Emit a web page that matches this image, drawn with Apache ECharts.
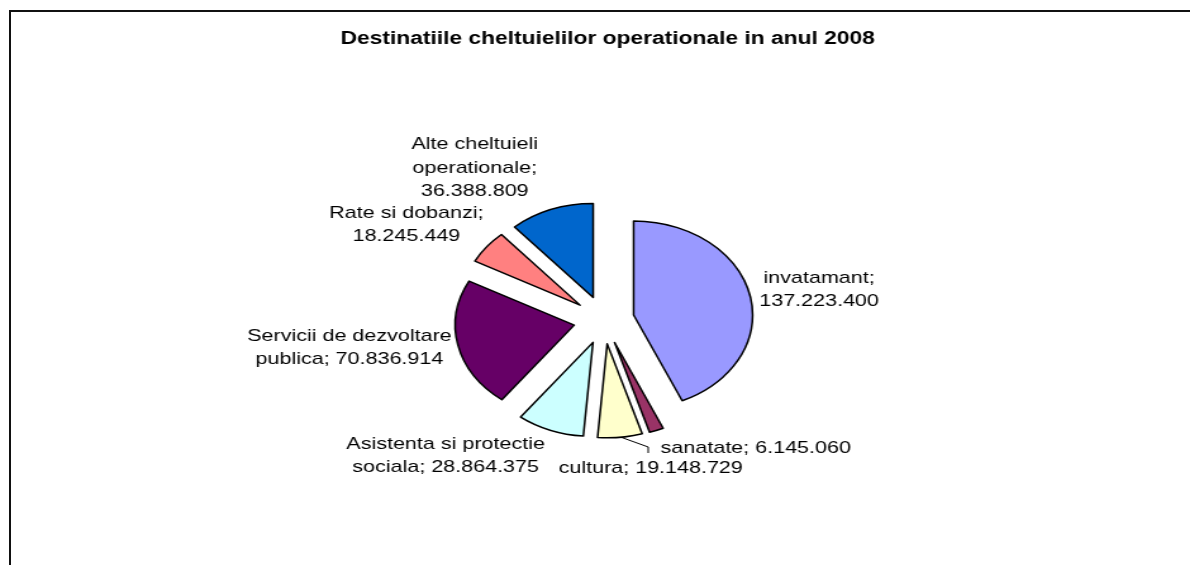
<!DOCTYPE html>
<html>
<head>
<meta charset="utf-8">
<script src="https://cdn.jsdelivr.net/npm/echarts@6/dist/echarts.min.js"></script>
<style>
    html, body { margin: 0; padding: 0; background: #fff; overflow: hidden; }
    #frame {
        position: absolute; left: 9px; top: 10px; width: 1300px; height: 700px;
        border-left: 2px solid #111; border-top: 2px solid #111;
    }
    /* the original picture is stretched sideways, so the chart is too */
    #chart {
        position: absolute; left: 0; top: 0; width: 940px; height: 565px;
        transform: scaleX(1.266); transform-origin: 0 0;
    }
</style>
</head>
<body>
<div id="frame"></div>
<div id="chart"></div>
<script>
const categories = [
    'invatamant',
    'sanatate',
    'cultura',
    'Asistenta si protectie sociala',
    'Servicii de dezvoltare publica',
    'Rate si dobanzi',
    'Alte cheltuieli operationale'
]
const values = [137223400, 6145060, 19148729, 28864375, 70836914, 18245449, 36388809]
const colors = ['#9999FF', '#993366', '#FFFFCC', '#CCFFFF', '#660066', '#FF8080', '#0066CC']
// how each label is broken over lines (value is appended)
const labelHeads = [
    'invatamant;\n',
    'sanatate; ',
    'cultura; ',
    'Asistenta si protectie\nsociala; ',
    'Servicii de dezvoltare\npublica; ',
    'Rate si dobanzi;\n',
    'Alte cheltuieli\noperationale;\n'
]
// label centres (chart px, before stretch)
const labelPos = [[647, 290], [597, 448], [514, 468], [352, 456], [276, 348], [321, 225], [375, 168]]

function fmt(v) {
    return String(v).replace(/\B(?=(\d{3})+(?!\d))/g, '.')
}

const FONT = 'Liberation Sans, Arial'
const CENTER = [477, 320]
const R = 94

var chart = echarts.init(document.getElementById('chart'))
let option = {
    animation: false,
    title: {
        text: 'Destinatiile cheltuielilor operationale in anul 2008',
        left: 269,
        top: 30,
        padding: 0,
        textStyle: { fontFamily: FONT, fontSize: 18, fontWeight: 'bold', color: '#000' }
    },
    graphic: [
        {
            // leader line of the cultura label
            type: 'polyline',
            shape: { points: [[490, 437], [512, 447], [512, 453]] },
            style: { stroke: '#000', lineWidth: 1, fill: null }
        }
    ],
    series: [
        {
            // exploded slices
            type: 'pie',
            center: CENTER,
            radius: R,
            startAngle: 90,
            clockwise: true,
            selectedMode: 'multiple',
            selectedOffset: 24,
            emphasis: { disabled: true },
            itemStyle: { borderColor: '#000', borderWidth: 1.5 },
            select: { itemStyle: { borderColor: '#000', borderWidth: 1.5 } },
            label: { show: false },
            labelLine: { show: false },
            data: categories.map((c, i) => ({
                name: c,
                value: values[i],
                selected: true,
                itemStyle: { color: colors[i] }
            }))
        },
        {
            // same data, invisible, only carries the labels
            type: 'pie',
            silent: true,
            center: CENTER,
            radius: R,
            startAngle: 90,
            clockwise: true,
            avoidLabelOverlap: false,
            itemStyle: { color: 'rgba(0,0,0,0)', borderWidth: 0 },
            label: {
                show: true,
                position: 'outside',
                fontFamily: FONT,
                fontSize: 17,
                lineHeight: 23.5,
                color: '#000',
                align: 'center',
                formatter: p => labelHeads[p.dataIndex] + fmt(p.value)
            },
            labelLine: { show: false },
            labelLayout: p => ({
                x: labelPos[p.dataIndex][0],
                y: labelPos[p.dataIndex][1],
                align: 'center',
                verticalAlign: 'middle'
            }),
            data: categories.map((c, i) => ({ name: c, value: values[i] }))
        }
    ]
}
chart.setOption(option)
</script>
</body>
</html>
